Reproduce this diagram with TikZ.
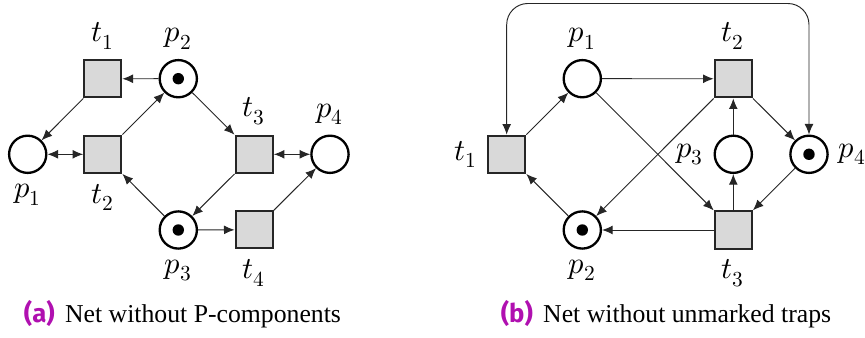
\documentclass[tikz,border=0pt]{standalone}
\usepackage{fontspec}
\setmainfont{Liberation Serif}
\newfontfamily\capsans{Fira Sans}
\usepackage{unicode-math}
\setmathfont{Latin Modern Math}
\usetikzlibrary{arrows.meta}
\definecolor{capmag}{RGB}{176,16,176}
\definecolor{tfill}{RGB}{217,217,217}
\tikzset{
  place/.style={circle, draw=black, line width=1.1pt, fill=white, minimum size=0.62cm, inner sep=0pt},
  trans/.style={rectangle, draw=black!85, line width=1pt, fill=tfill, minimum size=0.62cm, inner sep=0pt},
  tok/.style={fill=black, circle, inner sep=0pt, minimum size=0.19cm},
  arc/.style={-{Latex[length=5pt,width=4.2pt]}, line width=0.45pt, draw=black!85},
  biarc/.style={{Latex[length=5pt,width=4.2pt]}-{Latex[length=5pt,width=4.2pt]}, line width=0.45pt, draw=black!85},
  every label/.style={font=\fontsize{14.5}{16}\selectfont, inner sep=1.5pt},
  label distance=3pt,
  caption/.style={font=\fontsize{12.2}{14}\selectfont, inner sep=0pt, anchor=base}
}
\begin{document}
\begin{tikzpicture}[x=0.016667cm, y=-0.016667cm]
\useasboundingbox (0,0) rectangle (865,338);
% ---------- (a) ----------
\node[place, label={below:$p_1$}] (ap1) at (27.7,154.3) {};
\node[place, label={above:$p_2$}] (ap2) at (178.3,78.7) {};
\node[place, label={below:$p_3$}] (ap3) at (178.3,230) {};
\node[place, label={above:$p_4$}] (ap4) at (330,154.3) {};
\node[tok] (ak2) at (ap2) {};
\node[tok] (ak3) at (ap3) {};
\node[trans, label={above:$t_1$}] (at1) at (102.8,78.8) {};
\node[trans, label={below:$t_2$}] (at2) at (102.8,154.3) {};
\node[trans, label={above:$t_3$}] (at3) at (254.2,154.3) {};
\node[trans, label={below:$t_4$}] (at4) at (254.2,229.8) {};
\draw[arc] (ap2) -- (at1);
\draw[arc] (at1) -- (ap1);
\draw[biarc] (ap1) -- (at2);
\draw[arc] (at2) -- (ap2);
\draw[arc] (ap2) -- (at3);
\draw[arc] (at3) -- (ap3);
\draw[arc] (ap3) -- (at2);
\draw[biarc] (at3) -- (ap4);
\draw[arc] (ap3) -- (at4);
\draw[arc] (at4) -- (ap4);
% ---------- (b) ----------
\node[trans, label={left:$t_1$}] (bt1) at (506.7,154.3) {};
\node[trans, label={above:$t_2$}] (bt2) at (733.3,78.8) {};
\node[trans, label={below:$t_3$}] (bt3) at (733.3,230) {};
\node[place, label={above:$p_1$}] (bp1) at (582.3,78.7) {};
\node[place, label={below:$p_2$}] (bp2) at (582.3,230) {};
\node[place, label={left:$p_3$}] (bp3) at (733.3,154.3) {};
\node[place, label={right:$p_4$}] (bp4) at (809,154.3) {};
\node[tok] (bk2) at (bp2) {};
\node[tok] (bk4) at (bp4) {};
\coordinate (btop) at (658,3.5);
\draw[arc] (bt1) -- (bp1);
\draw[arc] (bp1) -- (bt2);
\draw[arc] (bp1) -- (bt3.north west);
\draw[arc] (bt2.south west) -- (bp2);
\draw[arc] (bt2) -- (bp4);
\draw[arc] (bp3) -- (bt2);
\draw[arc] (bt3) -- (bp3);
\draw[arc] (bp4) -- (bt3);
\draw[arc] (bt3) -- (bp2);
\draw[arc] (bp2) -- (bt1);
\draw[biarc, rounded corners=10] (bt1.north) |- (btop) -| (bp4.north);
% ---------- captions ----------
\node[caption] (capa) at (182.5,323) {{\capsans\bfseries\color{capmag}(a)}\hspace{0.4em}Net without P-components};
\node[caption] (capb) at (666,323) {{\capsans\bfseries\color{capmag}(b)}\hspace{0.4em}Net without unmarked traps};
\end{tikzpicture}
\end{document}
